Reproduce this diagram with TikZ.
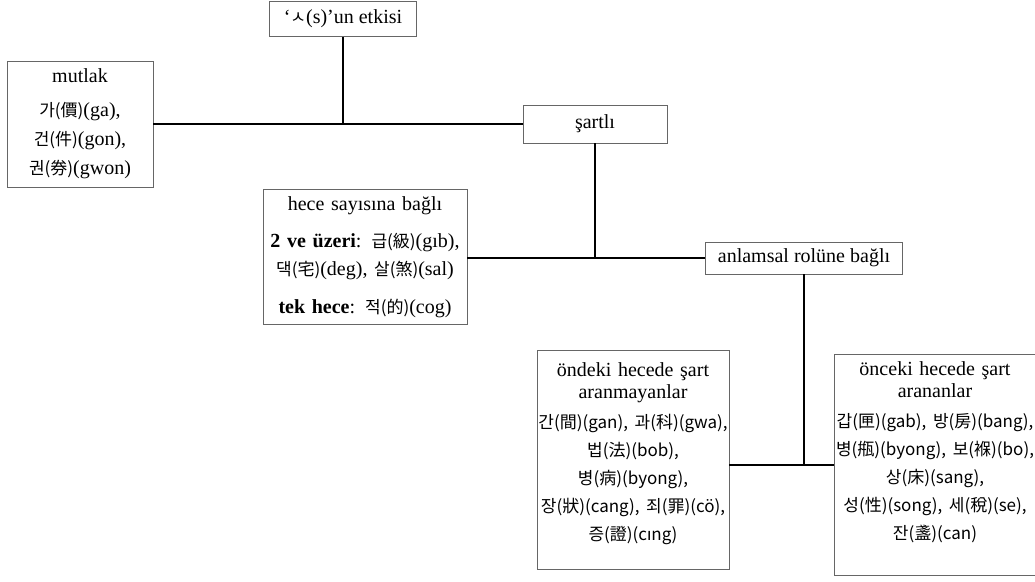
\documentclass[tikz,border=0pt]{standalone}
\usepackage{fontspec}
\setmainfont{Liberation Serif}
\newfontfamily\kr[Scale=0.85]{Noto Sans CJK KR}
\newfontfamily\krlat[Scale=0.85]{Noto Sans}
\tikzset{
  kutu/.style={draw=black!60, line width=0.9pt, fill=white, align=center,
    inner sep=0pt, font=\fontsize{20}{28}\selectfont},
  bag/.style={line width=2.6pt},
}
\begin{document}
\begin{tikzpicture}[x=1pt,y=-1pt]
\clip (0,0) rectangle (1035,581);
\fill[white] (0,0) rectangle (1035,581);

\node[kutu, minimum width=147, minimum height=35] (etki) at (343,19) {‘{\kr ㅅ}(s)’un etkisi};
\node[kutu, minimum width=146, minimum height=126, text width=146] (mutlak) at (80,124)
  {mutlak\\[6pt] {\kr 가(價)}(ga),\\[1pt] {\kr 건(件)}(gon),\\[1pt] {\kr 권(券)}(gwon)};
\node[kutu, minimum width=144, minimum height=38] (sartli) at (595,124) {şartlı};

\node[kutu, minimum width=204, minimum height=135, text width=204] (hece) at (365,257)
  {hece sayısına bağlı\\[9pt] \textbf{2 ve üzeri}: {\kr 급(級)}(gıb),\\ {\kr 댁(宅)}(deg), {\kr 살(煞)}(sal)\\[10pt] \textbf{tek hece}: {\kr 적(的)}(cog)};
\node[kutu, minimum width=197, minimum height=32] (anlamsal) at (804,258) {anlamsal rolüne bağlı};

\node[kutu, minimum width=192, minimum height=219, text width=192] (onde) at (633,460)
  {öndeki hecede şart\\[-6pt] aranmayanlar\\[2pt]
   {\kr 간(間)(gan), 과(科)(gwa),}\\ {\kr 법(法)(bob),}\\ {\kr 병(病)(byong),}\\
   {\kr 장(狀)(cang), 죄(罪)(cö),}\\ {\kr 증(證)(c}{\krlat ı}{\kr ng)}\rule[-17pt]{0pt}{0pt}};
\node[kutu, minimum width=202, minimum height=221, text width=202] (once) at (935,465)
  {önceki hecede şart\\[-6pt] arananlar\\[2pt]
   {\kr 갑(匣)(gab), 방(房)(bang),}\\ {\kr 병(甁)(byong), 보(褓)(bo),}\\ {\kr 상(床)(sang),}\\
   {\kr 성(性)(song), 세(稅)(se),}\\ {\kr 잔(盞)(can)}\rule[-29pt]{0pt}{0pt}};

% baglantilar
\draw[bag] (mutlak.east) -- (sartli.west);
\draw[bag] (etki.south) -- (etki.south |- sartli.west);
\draw[bag] (hece.east |- anlamsal.west) -- (anlamsal.west);
\draw[bag] (sartli.south) -- (sartli.south |- anlamsal.west);
\draw[bag] (onde.east |- once.west) -- (once.west);
\draw[bag] (anlamsal.south) -- (anlamsal.south |- once.west);
\end{tikzpicture}
\end{document}
